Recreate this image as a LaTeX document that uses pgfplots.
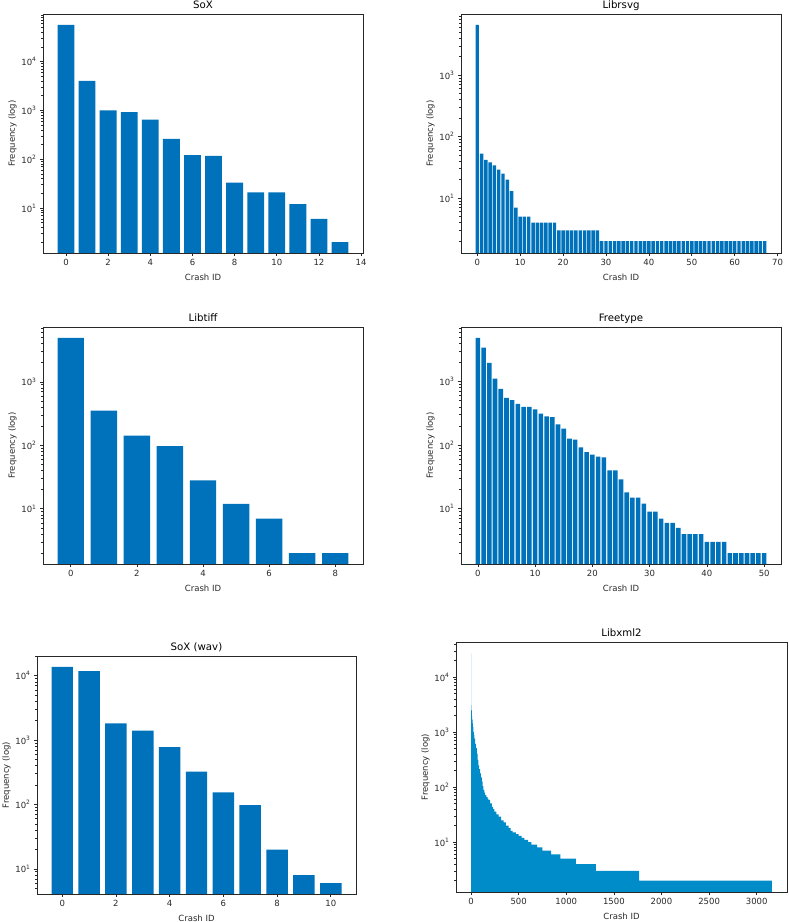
\documentclass[border=0pt]{standalone}
\usepackage{fontspec}
\setmainfont{DejaVu Sans}
\usepackage{pgfplots}
\pgfplotsset{compat=1.18}
\definecolor{barblue}{RGB}{0,114,188}
\definecolor{xmlblue}{RGB}{0,140,200}
\definecolor{axgray}{RGB}{40,40,40}
\pgfplotsset{
  every axis title shift=0pt,
  myax/.style={
    scale only axis,
    log origin y=infty,
    axis line style={axgray, line width=0.65bp},
    every tick/.style={axgray, line width=0.65bp},
    tick align=outside,
    xtick pos=left, ytick pos=left,
    major tick length=3bp, minor tick length=1.8bp,
    /pgf/number format/assume math mode=true,
    /pgf/number format/1000 sep={},
    tick label style={font=\fontsize{8.5bp}{10bp}\selectfont, text=axgray},
    label style={font=\fontsize{8.5bp}{10bp}\selectfont, text=axgray},
    title style={font=\fontsize{10.2bp}{12bp}\selectfont, text=black, at={(0.5,1)}, anchor=base, yshift=5.5bp, inner sep=0pt},
    xlabel={Crash ID},
    ylabel={Frequency (log)},
    xlabel style={yshift=-1bp},
    ylabel style={yshift=-2bp},
    minor ytick={2,3,4,5,6,7,8,9,20,30,40,50,60,70,80,90,200,300,400,500,600,700,800,900,2000,3000,4000,5000,6000,7000,8000,9000,20000,30000,40000,50000,60000,70000,80000,90000},
    ytick={10,100,1000,10000},
    yticklabels={10\textsuperscript{1},10\textsuperscript{2},10\textsuperscript{3},10\textsuperscript{4}},
  },
  mybar/.style={ybar, bar width=0.8, fill=barblue, draw=none},
}
\begin{document}
\begin{tikzpicture}
\path[use as bounding box] (0,0) rectangle (789bp,922bp);

% ---------- SoX ----------
\begin{semilogyaxis}[myax, at={(43bp,669bp)}, anchor=south west,
  width=320bp, height=239bp, title={SoX},
  xmin=-1.09, xmax=14.09, ymin=1.2, ymax=94400,
  xtick={0,2,...,14}]
\addplot[mybar] table {
x y
0 56500
1 4020
2 1000
3 925
4 650
5 260
6 121
7 117
8 33
9 21
10 21
11 12
12 6
13 2
};
\end{semilogyaxis}

% ---------- Librsvg ----------
\begin{semilogyaxis}[myax, at={(461bp,669bp)}, anchor=south west,
  width=320bp, height=239bp, title={Librsvg},
  xmin=-3.79, xmax=70.79, ymin=1.28, ymax=9900,
  xtick={0,10,...,70}]
\addplot[mybar] table {
x y
0 6600
1 53
2 42
3 38
4 34
5 29
6 25
7 20
8 13
9 7
10 5
11 5
12 5
13 4
14 4
15 4
16 4
17 4
18 4
19 3
20 3
21 3
22 3
23 3
24 3
25 3
26 3
27 3
28 3
29 2
30 2
31 2
32 2
33 2
34 2
35 2
36 2
37 2
38 2
39 2
40 2
41 2
42 2
43 2
44 2
45 2
46 2
47 2
48 2
49 2
50 2
51 2
52 2
53 2
54 2
55 2
56 2
57 2
58 2
59 2
60 2
61 2
62 2
63 2
64 2
65 2
66 2
67 2
};
\end{semilogyaxis}

% ---------- Libtiff ----------
\begin{semilogyaxis}[myax, at={(43bp,358bp)}, anchor=south west,
  width=320bp, height=237bp, title={Libtiff},
  xmin=-0.84, xmax=8.84, ymin=1.35, ymax=7325,
  xtick={0,2,...,8}]
\addplot[mybar] table {
x y
0 4950
1 353
2 142
3 97
4 28
5 12
6 7
7 2
8 2
};
\end{semilogyaxis}

% ---------- Freetype ----------
\begin{semilogyaxis}[myax, at={(461bp,358bp)}, anchor=south west,
  width=320bp, height=237bp, title={Freetype},
  xmin=-2.94, xmax=52.94, ymin=1.35, ymax=7220,
  xtick={0,10,...,50}]
\addplot[mybar] table {
x y
0 4890
1 3410
2 1960
3 1115
4 767
5 555
6 510
7 447
8 401
9 400
10 364
11 313
12 284
13 275
14 213
15 182
16 127
17 122
18 92
19 78
20 71
21 66
22 64
23 40
24 40
25 29
26 18
27 15
28 15
29 12
30 9
31 9
32 7
33 6
34 6
35 5
36 4
37 4
38 4
39 4
40 3
41 3
42 3
43 3
44 2
45 2
46 2
47 2
48 2
49 2
50 2
};
\end{semilogyaxis}

% ---------- SoX (wav) ----------
\begin{semilogyaxis}[myax, at={(37bp,28bp)}, anchor=south west,
  width=319bp, height=238bp, title={SoX (wav)},
  xmin=-0.94, xmax=10.94, ymin=4.07, ymax=20300,
  xtick={0,2,...,10}]
\addplot[mybar] table {
x y
0 13800
1 11800
2 1815
3 1400
4 778
5 325
6 155
7 98
8 20
9 8
10 6
};
\end{semilogyaxis}

% ---------- Libxml2 ----------
\begin{semilogyaxis}[myax, at={(456bp,30bp)}, anchor=south west,
  width=331bp, height=250bp, title={Libxml2},
  xmin=-158, xmax=3318, ymin=1.24, ymax=43700,
  xtick={0,500,1000,1500,2000,2500,3000}]
\addplot[ybar interval, fill=xmlblue, draw=none] table {
x y
-0.4 27000
0.6 15000
1.6 3100
4 2500
8 2000
12 1700
16 1450
20 1250
25 1000
30 880
35 760
42 615
50 520
60 406
70 315
77 250
85 212
95 178
104 150
113 126
122 105
130 89
140 80
148 72
160 66
175 62
183 59
200 51
218 44
232 40
246 36
265 32
289 29
315 25
341 23
365 20
394 18
415 16
437 15
470 14
500 13
530 12
560 11
600 10
634 9
693 8
748 7
840 6
937 5
1100 4
1312 3
1765 2
3159.4 2
};
\end{semilogyaxis}
\end{tikzpicture}
\end{document}
